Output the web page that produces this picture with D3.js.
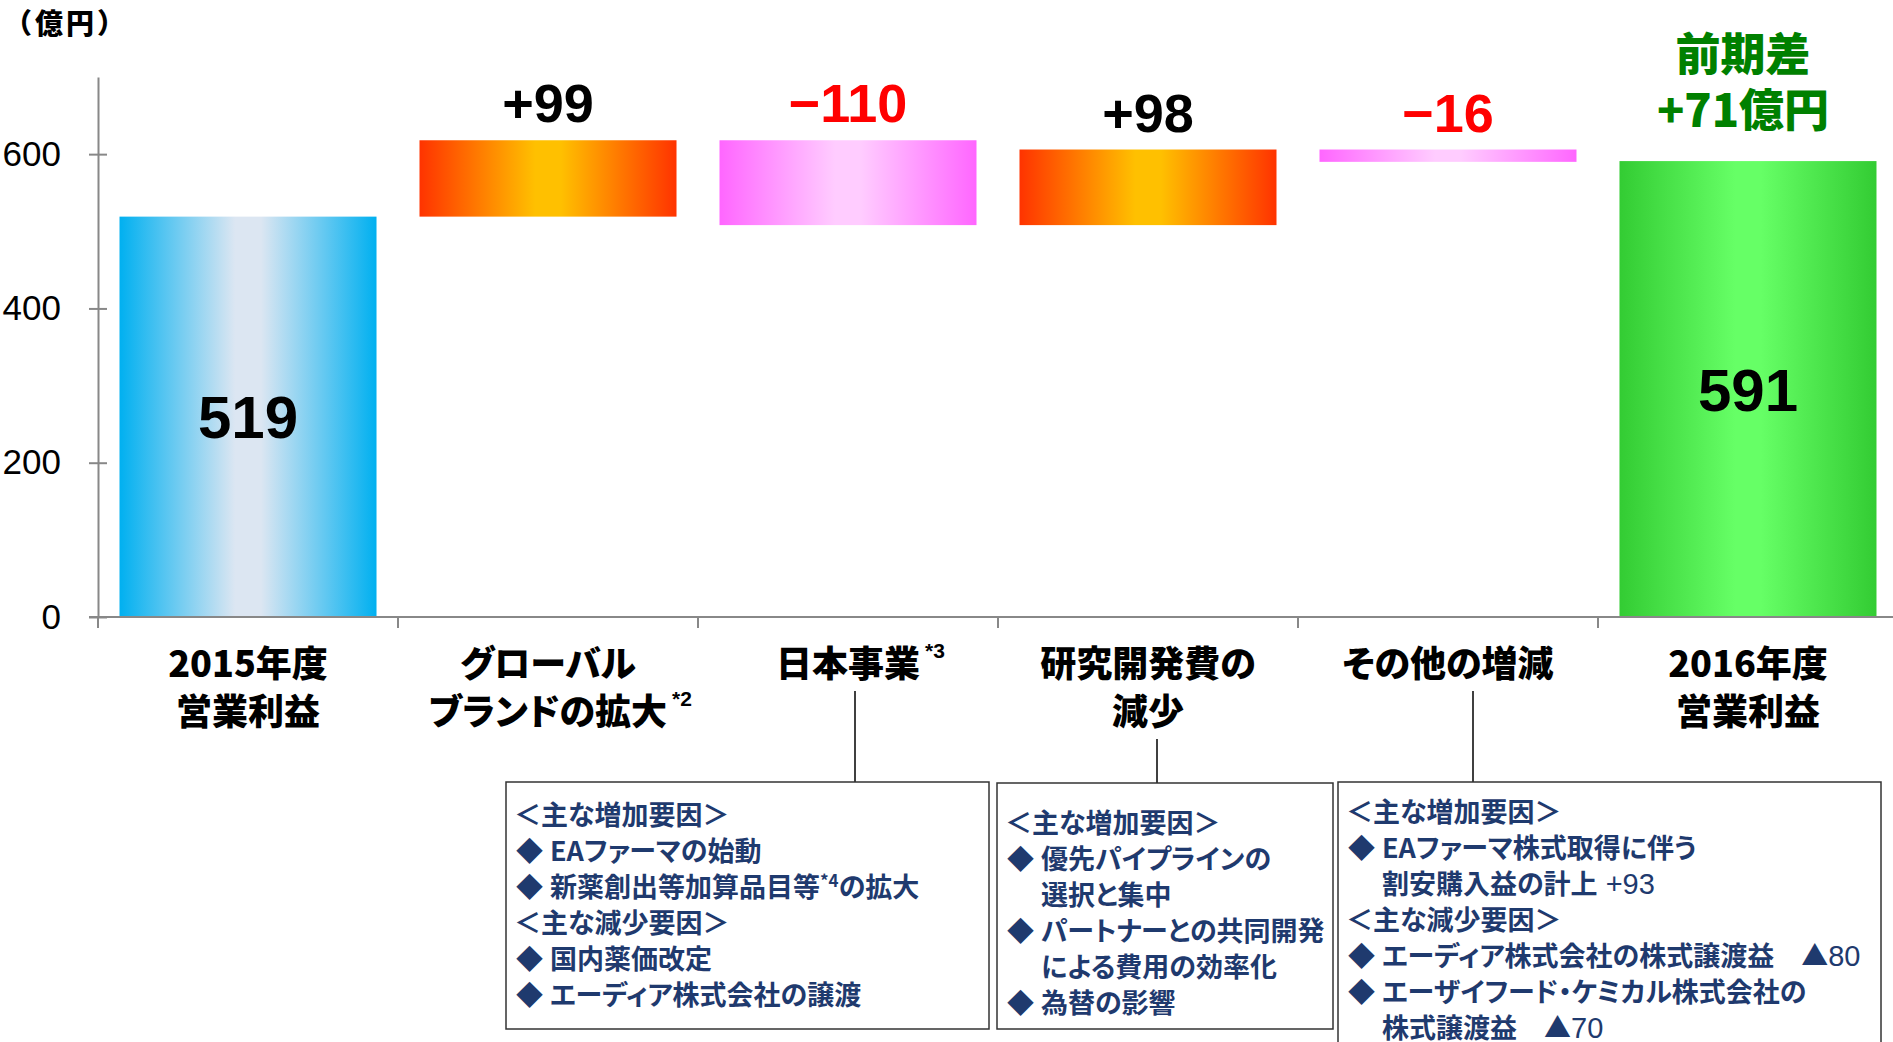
<!DOCTYPE html>
<html>
<head>
<meta charset="utf-8">
<script src="https://cdn.jsdelivr.net/npm/d3@7"></script>
<style>
  body { margin: 0; background: #fff; }
  svg { display: block; }
  text { white-space: pre; }
</style>
</head>
<body>
<svg id="chart" width="1893" height="1042"></svg>
<script>
// ---- data ----
const categories = ['2015年度\n営業利益', 'グローバル\nブランドの拡大', '日本事業', '研究開発費の\n減少', 'その他の増減', '2016年度\n営業利益'];
const categoryNotes = ['', '*2', '*3', '', '', ''];
const values = [519, 99, -110, 98, -16, 591];
const barTypes = ['total', 'delta', 'delta', 'delta', 'delta', 'total'];
const valueLabels = ['519', '+99', '−110', '+98', '−16', '591'];
const yTicks = [0, 200, 400, 600];
const unitLabel = '（億円）';
const diffLabel = ['前期差', '+71億円'];

// {..} = superscript, [..] = plain numerals
const notesJapan = [
  ['head', '＜主な増加要因＞'],
  ['item', 'EAファーマの始動'],
  ['item', '新薬創出等加算品目等{*4}の拡大'],
  ['head', '＜主な減少要因＞'],
  ['item', '国内薬価改定'],
  ['item', 'エーディア株式会社の譲渡']
];
const notesRnd = [
  ['head', '＜主な増加要因＞'],
  ['item', '優先パイプラインの'],
  ['cont', '選択と集中'],
  ['item', 'パートナーとの共同開発'],
  ['cont', 'による費用の効率化'],
  ['item', '為替の影響']
];
const notesOther = [
  ['head', '＜主な増加要因＞'],
  ['item', 'EAファーマ株式取得に伴う'],
  ['cont', '割安購入益の計上[ +93]'],
  ['head', '＜主な減少要因＞'],
  ['item', 'エーディア株式会社の株式譲渡益　▲[80]'],
  ['item', 'エーザイフード・ケミカル株式会社の'],
  ['cont', '株式譲渡益　▲[70]']
];

// ---- layout ----
const svg = d3.select('#chart');
const jp = '"Noto Sans CJK JP", sans-serif';
const num = '"Liberation Sans", Arial, sans-serif';
const navy = '#1f3a6e';

const x = d3.scaleBand()
  .domain(categories)
  .range([98, 1898])
  .paddingInner(0.1433)
  .paddingOuter(0.0717);
const y = d3.scaleLinear().domain([0, 700]).range([617, 77]);

// gradients
const defs = svg.append('defs');
const grads = {
  blue: ['#00b0f0', '#dce6f2'],
  orange: ['#ff3300', '#ffc000'],
  pink: ['#ff66ff', '#ffccff'],
  green: ['#33cc33', '#66ff66']
};
Object.entries(grads).forEach(([k, c]) => {
  const g = defs.append('linearGradient').attr('id', 'g-' + k)
    .attr('x1', 0).attr('x2', 1).attr('y1', 0).attr('y2', 0);
  [[0, c[0]], [0.45, c[1]], [0.55, c[1]], [1, c[0]]].forEach(s =>
    g.append('stop').attr('offset', s[0]).attr('stop-color', s[1]));
});

// waterfall bars
let run = 0;
const bars = values.map((v, i) => {
  let y0, y1;
  if (barTypes[i] === 'total') { y0 = 0; y1 = v; run = v; }
  else { y0 = run; y1 = run + v; run += v; }
  let fill = v >= 0 ? 'orange' : 'pink';
  if (barTypes[i] === 'total') fill = i === 0 ? 'blue' : 'green';
  return { cat: categories[i], v, y0, y1, fill, label: valueLabels[i], type: barTypes[i] };
});

svg.selectAll('.bar')
  .data(bars)
  .enter().append('rect')
  .attr('class', 'bar')
  .attr('x', d => x(d.cat))
  .attr('width', x.bandwidth())
  .attr('y', d => y(Math.max(d.y0, d.y1)))
  .attr('height', d => Math.abs(y(d.y0) - y(d.y1)))
  .attr('fill', d => 'url(#g-' + d.fill + ')');

// value labels
svg.selectAll('.vlabel')
  .data(bars)
  .enter().append('text')
  .attr('class', 'vlabel')
  .attr('x', d => x(d.cat) + x.bandwidth() / 2)
  .attr('y', d => d.type === 'total' ? y((d.y0 + d.y1) / 2) : y(Math.max(d.y0, d.y1)) - 18)
  .attr('dy', d => d.type === 'total' ? '0.36em' : 0)
  .attr('text-anchor', 'middle')
  .style('font-family', num)
  .style('font-weight', 'bold')
  .style('font-size', d => d.type === 'total' ? '60px' : '54px')
  .attr('fill', d => d.v < 0 ? '#ff0000' : '#000')
  .text(d => d.label);

// y axis
const yAxis = svg.append('g')
  .attr('transform', 'translate(98,0)')
  .call(d3.axisLeft(y).tickValues(yTicks).tickSizeInner(9).tickSizeOuter(0).tickPadding(28));
yAxis.select('.domain').attr('stroke', '#888').attr('stroke-width', 2);
yAxis.selectAll('.tick line').attr('x1', 9).attr('stroke', '#888').attr('stroke-width', 2);
yAxis.selectAll('.tick text')
  .style('font-family', num)
  .style('font-size', '35px')
  .attr('fill', '#000');

// x axis
svg.append('line')
  .attr('x1', 89).attr('x2', 1893)
  .attr('y1', y(0)).attr('y2', y(0))
  .attr('stroke', '#888').attr('stroke-width', 2);
svg.selectAll('.xtick')
  .data(d3.range(categories.length + 1))
  .enter().append('line')
  .attr('x1', i => x.range()[0] + i * x.step())
  .attr('x2', i => x.range()[0] + i * x.step())
  .attr('y1', y(0)).attr('y2', y(0) + 11)
  .attr('stroke', '#888').attr('stroke-width', 2);

// category labels
categories.forEach((c, i) => {
  const cx = x(c) + x.bandwidth() / 2;
  const lines = c.split('\n');
  lines.forEach((ln, j) => {
    const t = svg.append('text')
      .attr('x', cx)
      .attr('y', 664 + j * 48)
      .attr('dy', '0.35em')
      .attr('text-anchor', 'middle')
      .style('font-family', jp)
      .style('font-weight', 900)
      .style('font-size', '36px')
      .style('font-feature-settings', '"palt"')
      .text(ln);
    if (j === lines.length - 1 && categoryNotes[i]) {
      const w = t.node().getComputedTextLength();
      svg.append('text')
        .attr('x', cx + w / 2 + 5)
        .attr('y', 664 + j * 48 - 6)
        .style('font-family', num)
        .style('font-weight', 'bold')
        .style('font-size', '21px')
        .text(categoryNotes[i]);
    }
  });
});

// unit label
svg.append('text')
  .attr('x', 4).attr('y', 24).attr('dy', '0.35em')
  .style('font-family', jp).style('font-weight', 900).style('font-size', '28px')
  .style('letter-spacing', '3px')
  .text(unitLabel);

// diff label
const lastCx = x(categories[5]) + x.bandwidth() / 2 - 5;
diffLabel.forEach((s, j) => {
  svg.append('text')
    .attr('x', lastCx).attr('y', 55 + j * 56).attr('dy', '0.36em')
    .attr('text-anchor', 'middle')
    .style('font-family', jp).style('font-weight', 900).style('font-size', '45px')
    .attr('fill', '#008000')
    .text(s);
});

// note boxes
const boxes = [
  { x: 506, y: 782, w: 483, h: 247, lx: 855, ly: 691, first: 33, lines: notesJapan },
  { x: 997, y: 783, w: 336, h: 246, lx: 1157, ly: 739, first: 40, lines: notesRnd },
  { x: 1338, y: 782, w: 543, h: 270, lx: 1473, ly: 691, first: 30, lines: notesOther }
];

function addSegments(t, str) {
  let shift = 0;
  str.split(/(\{[^}]*\}|\[[^\]]*\])/).filter(s => s).forEach(s => {
    let sp;
    if (s[0] === '{') {
      sp = t.append('tspan').attr('dy', -10).style('font-size', '17px').text(s.slice(1, -1));
      shift = -10;
      return;
    }
    if (s[0] === '[') {
      sp = t.append('tspan').style('font-family', num).style('font-weight', 'normal')
        .style('font-size', '29px').text(s.slice(1, -1));
    } else {
      sp = t.append('tspan').text(s);
    }
    if (shift) sp.attr('dy', -shift);
    shift = 0;
  });
}

boxes.forEach(b => {
  svg.append('line')
    .attr('x1', b.lx).attr('x2', b.lx).attr('y1', b.ly).attr('y2', b.y)
    .attr('stroke', '#000').attr('stroke-width', 1.5);
  svg.append('rect')
    .attr('x', b.x).attr('y', b.y).attr('width', b.w).attr('height', b.h)
    .attr('fill', '#fff').attr('stroke', '#333').attr('stroke-width', 1.5);
  b.lines.forEach((ln, j) => {
    const ty = b.y + b.first + j * 36 + 9.5;
    const base = svg.append('g')
      .style('font-family', jp).style('font-weight', 700).style('font-size', '27px')
      .style('font-feature-settings', '"palt"')
      .attr('fill', navy);
    if (ln[0] === 'item') {
      base.append('text').attr('x', b.x + 10).attr('y', ty).text('◆');
    }
    const t = base.append('text')
      .attr('x', ln[0] === 'head' ? b.x + 8 : b.x + 44)
      .attr('y', ty);
    addSegments(t, ln[1]);
  });
});
</script>
</body>
</html>
